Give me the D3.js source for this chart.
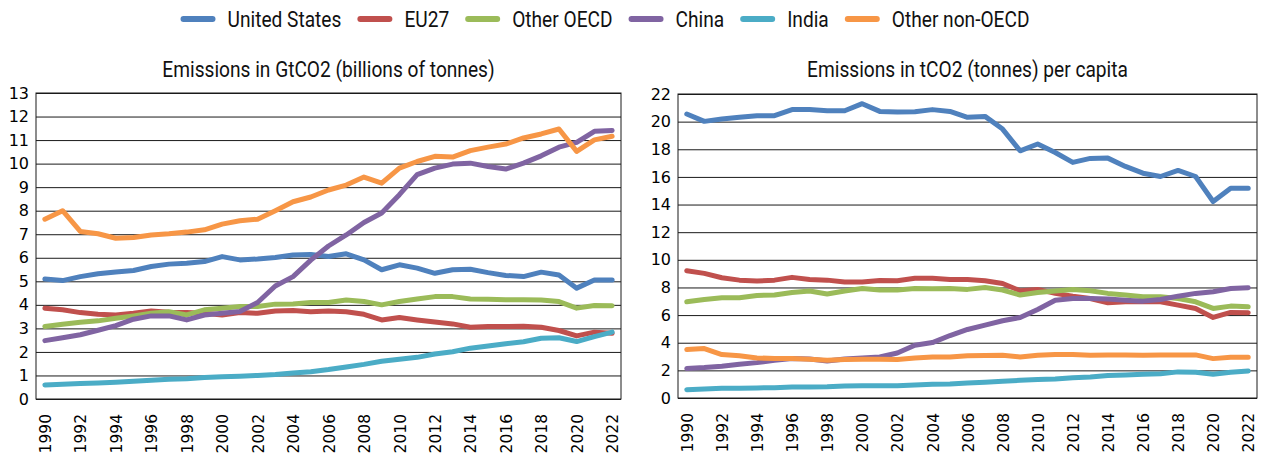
<!DOCTYPE html>
<html>
<head>
<meta charset="utf-8">
<script src="https://cdn.jsdelivr.net/npm/d3@7"></script>
<style>
  html, body { margin: 0; padding: 0; background: #ffffff; }
  svg { display: block; }
</style>
</head>
<body>
<svg id="chart" width="1263" height="454"></svg>
<script>
// Years on the category axis
const years = [1990,1991,1992,1993,1994,1995,1996,1997,1998,1999,2000,2001,2002,2003,2004,2005,2006,
               2007,2008,2009,2010,2011,2012,2013,2014,2015,2016,2017,2018,2019,2020,2021,2022];
// Every other year is labelled
const yearLabels = [1990,1992,1994,1996,1998,2000,2002,2004,2006,2008,2010,2012,2014,2016,2018,2020,2022];

const seriesNames = ["United States", "EU27", "Other OECD", "China", "India", "Other non-OECD"];
const seriesColors = ["#4F81BD", "#C0504D", "#9BBB59", "#8064A2", "#4BACC6", "#F79646"];

// Total emissions, GtCO2
const totalUS = [5.10,5.03,5.20,5.32,5.40,5.46,5.63,5.73,5.77,5.84,6.05,5.91,5.95,6.01,6.12,6.14,6.05,
                 6.17,5.91,5.49,5.70,5.56,5.34,5.49,5.51,5.37,5.25,5.20,5.39,5.27,4.71,5.06,5.06];
const totalEU27 = [3.86,3.79,3.67,3.60,3.57,3.64,3.74,3.69,3.67,3.64,3.57,3.67,3.64,3.74,3.76,3.71,3.74,
                   3.71,3.60,3.36,3.46,3.36,3.27,3.19,3.05,3.08,3.08,3.09,3.05,2.91,2.68,2.84,2.79];
const totalOtherOECD = [3.08,3.18,3.26,3.32,3.43,3.53,3.64,3.71,3.57,3.79,3.86,3.93,3.93,4.03,4.04,4.10,4.10,
                        4.21,4.14,4.00,4.14,4.25,4.35,4.35,4.25,4.24,4.22,4.22,4.21,4.14,3.86,3.97,3.96];
const totalChina = [2.48,2.60,2.73,2.92,3.12,3.39,3.53,3.53,3.36,3.57,3.64,3.72,4.10,4.80,5.20,5.90,6.50,
                    6.97,7.50,7.90,8.68,9.53,9.81,9.98,10.02,9.88,9.77,10.02,10.33,10.70,10.90,11.37,11.41];
const totalIndia = [0.60,0.63,0.66,0.68,0.71,0.75,0.80,0.84,0.86,0.91,0.95,0.97,1.00,1.04,1.10,1.16,1.25,
                    1.36,1.47,1.60,1.69,1.77,1.91,2.01,2.16,2.25,2.35,2.43,2.58,2.60,2.44,2.65,2.84];
const totalOtherNonOECD = [7.64,8.00,7.12,7.02,6.83,6.86,6.97,7.02,7.09,7.19,7.43,7.57,7.64,8.00,8.38,8.58,8.88,
                           9.09,9.43,9.17,9.81,10.09,10.31,10.28,10.55,10.70,10.83,11.09,11.26,11.47,10.52,11.01,11.16];

// Emissions per capita, tCO2
const capUS = [20.55,20.02,20.19,20.31,20.43,20.43,20.87,20.87,20.79,20.79,21.30,20.74,20.70,20.72,20.87,20.74,
               20.31,20.38,19.46,17.89,18.38,17.77,17.05,17.34,17.36,16.76,16.27,16.03,16.47,16.03,14.22,15.18,15.18];
const capEU27 = [9.21,9.02,8.70,8.53,8.46,8.53,8.73,8.58,8.53,8.39,8.39,8.51,8.49,8.66,8.66,8.58,
                 8.58,8.49,8.29,7.76,7.86,7.57,7.37,7.20,6.89,6.96,6.96,6.96,6.72,6.48,5.83,6.19,6.17];
const capOtherOECD = [6.96,7.13,7.25,7.25,7.42,7.45,7.64,7.74,7.52,7.74,7.93,7.81,7.81,7.93,7.91,7.93,
                      7.86,8.00,7.81,7.45,7.64,7.74,7.86,7.76,7.57,7.45,7.33,7.33,7.20,6.96,6.48,6.65,6.60];
const capChina = [2.13,2.20,2.30,2.44,2.56,2.73,2.85,2.83,2.68,2.83,2.90,2.97,3.26,3.82,4.01,4.52,
                  4.96,5.27,5.59,5.83,6.41,7.08,7.20,7.20,7.16,7.08,7.01,7.13,7.37,7.57,7.69,7.93,7.98];
const capIndia = [0.60,0.65,0.70,0.70,0.73,0.75,0.80,0.80,0.82,0.87,0.89,0.89,0.89,0.94,0.99,1.02,
                  1.09,1.14,1.21,1.28,1.33,1.38,1.47,1.52,1.62,1.67,1.72,1.76,1.89,1.86,1.72,1.86,1.96];
const capOtherNonOECD = [3.51,3.58,3.14,3.05,2.90,2.85,2.85,2.80,2.73,2.78,2.80,2.80,2.78,2.90,2.97,2.97,
                         3.05,3.07,3.09,2.97,3.09,3.14,3.14,3.09,3.12,3.12,3.09,3.12,3.12,3.12,2.85,2.95,2.95];

const leftTicks = [0,1,2,3,4,5,6,7,8,9,10,11,12,13];
const rightTicks = [0,2,4,6,8,10,12,14,16,18,20,22];

const svg = d3.select("#chart");
const headFont = "Roboto, 'Noto Sans', sans-serif";
const headSize = 22;
const squeeze = 0.87;   // narrow look for headings and legend
const tickFont = "'DejaVu Sans', sans-serif";

function panel(opts) {
  const g = svg.append("g");
  const x = d3.scalePoint().domain(years).range([opts.x0, opts.x1]).padding(0.5);
  const y = d3.scaleLinear().domain([0, opts.max]).range([opts.bottom, opts.top]);
  const w = opts.x1 - opts.x0;

  // gridlines + value labels
  const yAxis = g.append("g")
    .attr("transform", `translate(${opts.x0},0)`)
    .call(d3.axisLeft(y).tickValues(opts.ticks).tickSize(-w).tickPadding(7).tickFormat(d3.format("d")));
  yAxis.select(".domain").remove();
  yAxis.selectAll(".tick line").attr("stroke", "#1a1a1a").attr("stroke-width", 1);
  yAxis.selectAll(".tick text")
    .attr("fill", "#000").style("font-family", tickFont).style("font-size", "16px");

  // plot frame
  g.append("rect")
    .attr("x", opts.x0).attr("y", opts.top)
    .attr("width", w).attr("height", opts.bottom - opts.top)
    .attr("fill", "none").attr("stroke", "#1a1a1a").attr("stroke-width", 1);

  // year labels, rotated
  const xAxis = g.append("g")
    .attr("transform", `translate(0,${opts.bottom})`)
    .call(d3.axisBottom(x).tickValues(yearLabels).tickSize(0));
  xAxis.select(".domain").remove();
  xAxis.selectAll(".tick text")
    .attr("transform", "rotate(-90)")
    .attr("x", -15).attr("y", 0).attr("dy", "0.36em")
    .style("text-anchor", "end")
    .attr("fill", "#000").style("font-family", tickFont).style("font-size", "15.5px");

  // series lines
  const line = d3.line().x((d, i) => x(years[i])).y(d => y(d));
  opts.series.forEach((vals, k) => {
    g.append("path")
      .datum(vals)
      .attr("d", line)
      .attr("fill", "none")
      .attr("stroke", seriesColors[k])
      .attr("stroke-width", 5)
      .attr("stroke-linejoin", "round")
      .attr("stroke-linecap", "round");
  });

  // heading
  svg.append("text")
    .attr("transform", `translate(${(opts.x0 + opts.x1) / 2},77) scale(${squeeze},1)`)
    .attr("text-anchor", "middle")
    .style("font-family", headFont).style("font-size", headSize + "px")
    .attr("fill", "#111")
    .text(opts.title);
}

panel({
  x0: 36, x1: 621, top: 93, bottom: 399, max: 13, ticks: leftTicks,
  title: "Emissions in GtCO2 (billions of tonnes)",
  series: [totalUS, totalEU27, totalOtherOECD, totalChina, totalIndia, totalOtherNonOECD]
});

panel({
  x0: 678, x1: 1257, top: 94, bottom: 398, max: 22, ticks: rightTicks,
  title: "Emissions in tCO2 (tonnes) per capita",
  series: [capUS, capEU27, capOtherOECD, capChina, capIndia, capOtherNonOECD]
});

// legend: swatch, gap, label, spacing
const legend = svg.append("g");
const swatchLen = 29, swatchGap = 12, itemGap = 16;
let cursor = 0;
seriesNames.forEach((name, k) => {
  const item = legend.append("g");
  item.append("line")
    .attr("x1", cursor + 3).attr("x2", cursor + 3 + swatchLen)
    .attr("y1", 19).attr("y2", 19)
    .attr("stroke", seriesColors[k]).attr("stroke-width", 6).attr("stroke-linecap", "round");
  const tx = cursor + 6 + swatchLen + swatchGap;
  const t = item.append("text")
    .attr("transform", `translate(${tx},27) scale(${squeeze},1)`)
    .style("font-family", headFont).style("font-size", headSize + "px")
    .attr("fill", "#111")
    .text(name);
  const tw = t.node().getComputedTextLength() * squeeze;
  cursor = tx + tw + itemGap;
});
const legendWidth = cursor - itemGap;
legend.attr("transform", `translate(${605 - legendWidth / 2},0)`);
</script>
</body>
</html>
